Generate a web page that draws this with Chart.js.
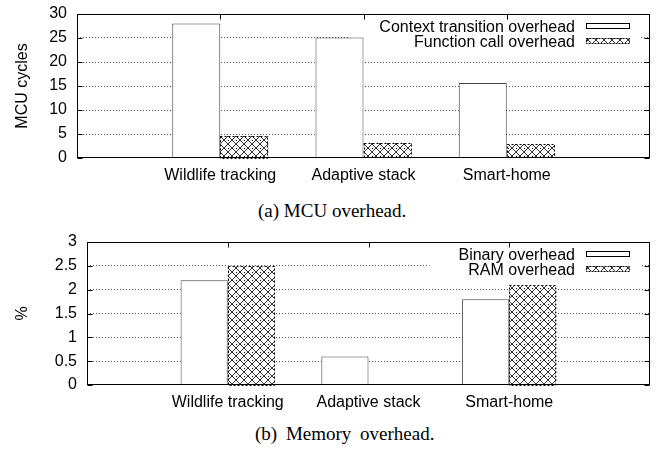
<!DOCTYPE html>
<html>
<head>
<meta charset="utf-8">
<script src="https://cdn.jsdelivr.net/npm/chart.js@4.4.0/dist/chart.umd.min.js"></script>
<style>
  body { margin: 0; background: #fff; width: 660px; height: 451px; position: relative; overflow: hidden; }
  .box { position: absolute; left: 0; width: 660px; height: 195px; }
  .cap { position: absolute; font-family: 'Liberation Serif', 'Times New Roman', serif; font-size: 19px; line-height: 19px; white-space: nowrap; color: #000; }
</style>
</head>
<body>
<div class="box" style="top:0"><canvas id="mcuChart"></canvas></div>
<div class="cap" style="left:258px;top:201px;word-spacing:0px">(a) MCU overhead.</div>
<div class="box" style="top:228px"><canvas id="memChart"></canvas></div>
<div class="cap" style="left:255px;top:424px;word-spacing:4px">(b) Memory overhead.</div>

<script>
// data
const categories = ['Wildlife tracking', 'Adaptive stack', 'Smart-home'];

const mcuLabels = ['Context transition overhead', 'Function call overhead'];
const contextTransition = [28, 25.1, 15.6];
const functionCall = [4.6, 3.1, 2.9];
const mcuTicks = [0, 5, 10, 15, 20, 25, 30];

const memLabels = ['Binary overhead', 'RAM overhead'];
const binaryOverhead = [2.2, 0.6, 1.8];
const ramOverhead = [2.5, 0, 2.1];
const memTicks = [0, 0.5, 1, 1.5, 2, 2.5, 3];

const FONT = "'Liberation Sans', Arial, Helvetica, sans-serif";
const KEY_FONT = '16px ' + FONT;

Chart.defaults.font.family = FONT;
Chart.defaults.font.size = 16;
Chart.defaults.color = '#000';

// empty slot on each side, like the gnuplot x range
const pad = arr => [null, ...arr, null];

// crosshatch fill
function makeHatch() {
    const c = document.createElement('canvas');
    c.width = 8; c.height = 8;
    const g = c.getContext('2d');
    g.fillStyle = '#fff';
    g.fillRect(0, 0, 8, 8);
    g.strokeStyle = '#000';
    g.lineWidth = 0.8;
    g.beginPath();
    g.moveTo(0, 4); g.lineTo(4, 8);
    g.moveTo(4, 0); g.lineTo(8, 4);
    g.moveTo(0, 4); g.lineTo(4, 0);
    g.moveTo(4, 8); g.lineTo(8, 4);
    g.stroke();
    g.fillStyle = '#000';
    g.fillRect(4, 4, 1, 1);
    return g.createPattern(c, 'repeat');
}
const hatch = makeHatch();

const framePlugin = {
    id: 'frame',
    beforeDatasetsDraw(chart) {
        // key background hides the grid lines behind it
        const a = chart.chartArea, ctx = chart.ctx;
        ctx.save();
        ctx.font = KEY_FONT;
        const w = Math.max(...chart.data.datasets.map(d => ctx.measureText(d.label).width));
        const x0 = a.right - 75 - w - 29;
        ctx.fillStyle = '#fff';
        ctx.fillRect(x0, a.top + 3, a.right - 9 - x0, 33);
        ctx.restore();
    },
    afterDatasetsDraw(chart) {
        const a = chart.chartArea, ctx = chart.ctx;
        ctx.save();
        ctx.strokeStyle = '#000';
        ctx.lineWidth = 1;
        // dashed outline on hatched bars
        chart.data.datasets.forEach((ds, di) => {
            if (!ds.hatched) return;
            chart.getDatasetMeta(di).data.forEach((bar, i) => {
                if (!ds.data[i]) return;
                const p = bar.getProps(['x', 'y', 'base', 'width'], true);
                ctx.setLineDash([2, 2]);
                ctx.strokeRect(Math.round(p.x - p.width / 2) + 0.5, Math.round(p.y) + 0.5,
                    Math.round(p.width) - 1, Math.round(p.base - p.y));
            });
        });
        // key
        ctx.font = KEY_FONT;
        ctx.textAlign = 'right';
        ctx.textBaseline = 'alphabetic';
        chart.data.datasets.forEach((ds, di) => {
            const base = a.top + 17.5 + di * 15.5;
            ctx.fillStyle = '#000';
            ctx.fillText(ds.label, a.right - 75, base);
            const bx = Math.round(a.right - 64), by = Math.round(base - 9);
            ctx.fillStyle = ds.backgroundColor;
            ctx.fillRect(bx, by, 43, 5);
            ctx.setLineDash(ds.hatched ? [2, 1] : []);
            ctx.strokeRect(bx + 0.5, by + 0.5, 43, 5);
        });
        ctx.restore();
    },
    afterDraw(chart) {
        // border box and inward tics
        const a = chart.chartArea, ctx = chart.ctx;
        const l = Math.round(a.left) + 0.5, r = Math.round(a.right) - 0.5;
        const t = Math.round(a.top) + 0.5, b = Math.round(a.bottom) - 0.5;
        ctx.save();
        ctx.strokeStyle = '#000';
        ctx.lineWidth = 1;
        ctx.strokeRect(l, t, r - l, b - t);
        ctx.beginPath();
        const ys = chart.scales.y;
        ys.ticks.forEach(tk => {
            const py = Math.round(ys.getPixelForValue(tk.value)) + 0.5;
            ctx.moveTo(l, py); ctx.lineTo(l + 5, py);
            ctx.moveTo(r, py); ctx.lineTo(r - 5, py);
        });
        const xs = chart.scales.x;
        categories.forEach((c, i) => {
            const px = Math.round(xs.getPixelForValue(i + 1)) + 0.5;
            ctx.moveTo(px, t); ctx.lineTo(px, t + 5);
        });
        ctx.stroke();
        ctx.restore();
    }
};

function makeChart(canvasId, yTitle, ticks, labels, white, hatched, axisWidth, axisHeight) {
    return new Chart(document.getElementById(canvasId), {
        type: 'bar',
        data: {
            labels: ['', ...categories, ''],
            datasets: [
                { label: labels[0], data: pad(white), backgroundColor: '#fff', borderColor: '#444', borderWidth: 1 },
                { label: labels[1], data: pad(hatched), backgroundColor: hatch, borderWidth: 0, hatched: true }
            ]
        },
        options: {
            responsive: true,
            maintainAspectRatio: false,
            animation: false,
            events: [],
            datasets: { bar: { categoryPercentage: 0.67, barPercentage: 1 } },
            layout: { padding: { top: 14, right: 10, left: 0, bottom: 0 } },
            plugins: { legend: { display: false }, tooltip: { enabled: false } },
            scales: {
                x: {
                    offset: false,
                    grid: { display: false },
                    border: { display: false },
                    ticks: { padding: 0, autoSkip: false, maxRotation: 0 },
                    afterFit: s => { s.height = axisHeight; }
                },
                y: {
                    min: ticks[0],
                    max: ticks[ticks.length - 1],
                    ticks: { stepSize: ticks[1] - ticks[0], padding: 10, callback: v => String(v) },
                    grid: {
                        drawTicks: false,
                        lineWidth: 1,
                        color: c => (c.tick && (c.tick.value === ticks[0] || c.tick.value === ticks[ticks.length - 1])) ? 'rgba(0,0,0,0)' : '#555'
                    },
                    border: { display: false, dash: [1, 2] },
                    title: { display: true, text: yTitle, padding: { top: 13, bottom: 0 } },
                    afterFit: s => { s.width = axisWidth; s.paddingTop = 0; s.paddingBottom = 0; }
                }
            }
        },
        plugins: [framePlugin]
    });
}

makeChart('mcuChart', 'MCU cycles', mcuTicks, mcuLabels, contextTransition, functionCall, 77, 37);
makeChart('memChart', '%', memTicks, memLabels, binaryOverhead, ramOverhead, 87, 38);
</script>
</body>
</html>
